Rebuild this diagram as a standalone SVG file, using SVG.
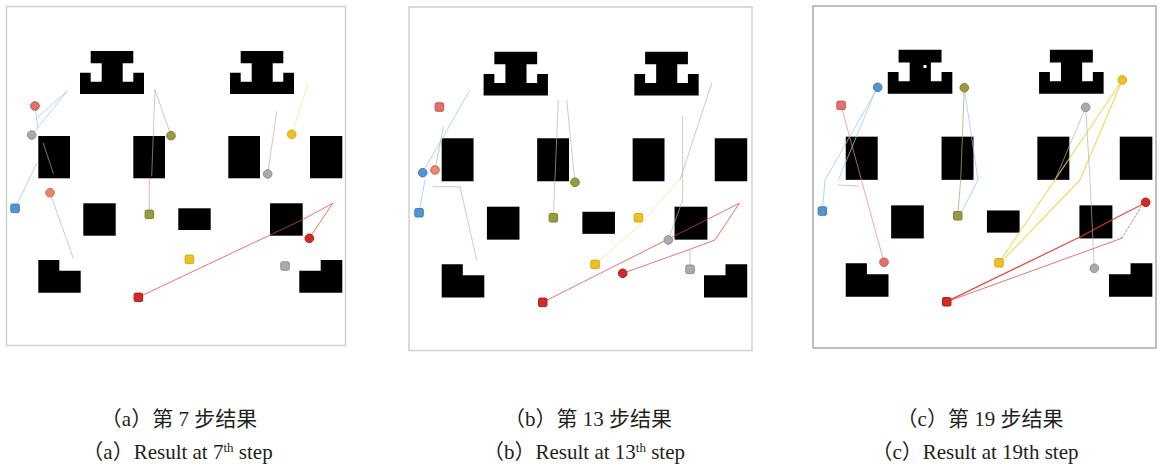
<svg xmlns="http://www.w3.org/2000/svg" width="1167" height="466" viewBox="0 0 1167 466">
<style>
.frame{fill:#fff;stroke:#d0d0d0;stroke-width:1.5}
.frame-c{fill:#fff;stroke:#a9a9a9;stroke-width:1.5}
.obs{fill:#000}
.ln{fill:none;stroke-width:0.9;stroke-linecap:round;stroke-linejoin:round}
.lred{stroke:#e0483f;opacity:.85}
.lredb{stroke:#e03a34;stroke-width:1.3;opacity:.9}
.ldash{stroke:#e0483f;stroke-dasharray:2 2;opacity:.8}
.lpink{stroke:#e58a84;opacity:.8}
.lgray{stroke:#b0b0b0;opacity:.75}
.lblue{stroke:#9cc8ec;opacity:.85}
.lyel{stroke:#f0d44a;stroke-width:1.2;opacity:.85}
.lyelf{stroke:#f3e29a;opacity:.8}
.lolive{stroke:#a7ad6a;opacity:.85}
.red{fill:#d12b27;stroke:#b01c18}
.pink{fill:#e2706b;stroke:#cc5852}
.orange{fill:#e8876a;stroke:#d06a4c}
.gray{fill:#ababab;stroke:#919191}
.olive{fill:#979c3e;stroke:#7c8130}
.yellow{fill:#efc021;stroke:#d8a814}
.blue{fill:#5294d0;stroke:#3f7fbb}
.cap{font-family:"Liberation Serif","Noto Sans CJK SC",serif;font-size:21px;fill:#231f20;text-anchor:middle}
</style>
<defs>
<g id="obstacles">
<path class="obs" d="M90.7,51H133.3V63.3H122.7V81.7H133.3V72.7H144V94H80V72.7H90.7V81.7H101.7V63.3H90.7Z"/>
<path class="obs" d="M240.7,51H283.3V63.3H272.7V81.7H283.3V72.7H294V94H230V72.7H240.7V81.7H251.7V63.3H240.7Z"/>
<rect class="obs" x="38.3" y="136" width="31.7" height="42.3"/>
<rect class="obs" x="133.3" y="136" width="31.7" height="42.3"/>
<rect class="obs" x="228.3" y="136" width="31.7" height="42.3"/>
<rect class="obs" x="310" y="136" width="32.3" height="42.3"/>
<rect class="obs" x="83.3" y="203.3" width="32.4" height="32.4"/>
<rect class="obs" x="178.3" y="208.3" width="32.4" height="21.7"/>
<rect class="obs" x="270" y="203.3" width="32.7" height="32.4"/>
<path class="obs" d="M38.3,260H59.3V270.7H80.7V292.7H38.3Z"/>
<path class="obs" d="M320.7,260H342.3V292.7H299.3V270.7H320.7Z"/>
</g>
</defs>

<g id="panel-a">
<rect class="frame" x="6.5" y="6.5" width="339" height="339"/>
<use href="#obstacles"/>
</g>
<g id="panel-b">
<rect class="frame" x="409" y="7" width="343" height="343.5"/>
<use href="#obstacles" transform="matrix(1.005,0,0,1.017,403.2,-0.06)"/>
</g>
<g id="panel-c">
<rect class="frame-c" x="813" y="6" width="343" height="342"/>
<use href="#obstacles" transform="matrix(1.0086,0,0,1.021,807.1,-2.2)"/>
<rect x="923.5" y="65" width="3" height="3" fill="#fff"/>
</g>

<g id="connectors">
<!-- panel a -->
<path class="ln lblue" d="M31.7,135L66.7,91.7"/>
<path class="ln lblue" d="M36.7,118L66.7,91.7"/>
<path class="ln lblue" d="M35,106L38,128"/>
<path class="ln lgray" d="M43.3,143.3L53.3,173.3"/>
<path class="ln lblue" d="M15,208.3L36.7,163.3"/>
<path class="ln lgray" d="M50,192.7L73.3,258.3"/>
<path class="ln lgray" d="M155,90L151.7,176"/>
<path class="ln lgray" d="M155,90L171,135.7"/>
<path class="ln lpink" d="M149.3,178L149.3,210"/>
<path class="ln lred" d="M138.3,297.3L303.3,219.3L332.7,203.3L309.3,238.3"/>
<path class="ln lgray" d="M267.7,174L276.7,111.7"/>
<path class="ln lyelf" d="M291.7,134.3L308.3,83.3"/>
<!-- panel b -->
<path class="ln lblue" d="M422.7,172.7L470,90"/>
<path class="ln lgray" d="M435,170L443.3,126.7"/>
<path class="ln lgray" d="M433,186.7L460,186.7L476.7,260"/>
<path class="ln lblue" d="M419,212.7L425,180"/>
<path class="ln lgray" d="M558.3,100L553.3,217.7"/>
<path class="ln lgray" d="M566.7,100L575,182.3"/>
<path class="ln lyelf" d="M595,264.3L640,225L683,175"/>
<path class="ln lgray" d="M711.7,83.3L680,180"/>
<path class="ln lgray" d="M682.7,116.7L682.7,200L668.3,240"/>
<path class="ln lred" d="M542.7,302.3L739.3,203.3L715,240L690,249.3L622.7,273.3"/>
<path class="ln lgray" d="M690,249.3L690,269.3"/>
<!-- panel c -->
<path class="ln lpink" d="M841,105.3L884,262.3"/>
<path class="ln lblue" d="M877.7,87.3L825,180L822.3,211"/>
<path class="ln lblue" d="M875,92L838.3,180"/>
<path class="ln lgray" d="M838.3,185L858,186"/>
<path class="ln lolive" d="M964.3,87.7L960.7,180L957.7,215.7"/>
<path class="ln lblue" d="M964.3,87.7L978,180L961,213"/>
<path class="ln lyel" d="M1122.3,80L999,262.7"/>
<path class="ln lyel" d="M1122.3,80L1080,180L1005,258"/>
<path class="ln lgray" d="M1085.7,107.3L1090,180L1094.3,268.3"/>
<path class="ln lgray" d="M1085.7,107.3L1055,180"/>
<path class="ln lredb" d="M946.7,301.7L1082,236L1111.7,220L1143,204"/>
<path class="ln lred" d="M946.7,301.7L1121.7,238.3"/>
<path class="ln ldash" d="M1121.7,238.3L1141,207"/>
</g>

<g id="agents-a">
<circle class="pink" cx="35" cy="106" r="4.3"/>
<circle class="gray" cx="31.7" cy="135" r="4.3"/>
<circle class="olive" cx="171" cy="135.7" r="4.3"/>
<circle class="yellow" cx="291.7" cy="134.3" r="4.3"/>
<circle class="gray" cx="267.7" cy="174" r="4.3"/>
<circle class="orange" cx="50" cy="192.7" r="4.3"/>
<rect class="blue" x="10.8" y="204.1" width="8.5" height="8.5" rx="1.5"/>
<rect class="olive" x="145.1" y="210.1" width="8.5" height="8.5" rx="1.5"/>
<rect class="yellow" x="185.1" y="255.1" width="8.5" height="8.5" rx="1.5"/>
<rect class="red" x="134.1" y="293.1" width="8.5" height="8.5" rx="1.5"/>
<circle class="red" cx="309.3" cy="238.3" r="4.3"/>
<rect class="gray" x="280.8" y="261.8" width="8.5" height="8.5" rx="1.5"/>
</g>
<g id="agents-b">
<rect class="pink" x="435.1" y="102.8" width="8.5" height="8.5" rx="1.5"/>
<circle class="blue" cx="422.7" cy="172.7" r="4.3"/>
<circle class="orange" cx="435" cy="170" r="4.3"/>
<circle class="olive" cx="575" cy="182.3" r="4.3"/>
<rect class="blue" x="414.8" y="208.5" width="8.5" height="8.5" rx="1.5"/>
<rect class="olive" x="549.1" y="213.5" width="8.5" height="8.5" rx="1.5"/>
<rect class="yellow" x="634.1" y="213.5" width="8.5" height="8.5" rx="1.5"/>
<circle class="gray" cx="668.3" cy="240" r="4.3"/>
<rect class="yellow" x="590.8" y="260.1" width="8.5" height="8.5" rx="1.5"/>
<circle class="red" cx="622.7" cy="273.3" r="4.3"/>
<rect class="gray" x="685.8" y="265.1" width="8.5" height="8.5" rx="1.5"/>
<rect class="red" x="538.5" y="298.1" width="8.5" height="8.5" rx="1.5"/>
</g>
<g id="agents-c">
<rect class="pink" x="836.8" y="101.1" width="8.5" height="8.5" rx="1.5"/>
<circle class="blue" cx="877.7" cy="87.3" r="4.3"/>
<circle class="olive" cx="964.3" cy="87.7" r="4.3"/>
<circle class="gray" cx="1085.7" cy="107.3" r="4.3"/>
<circle class="yellow" cx="1122.3" cy="80" r="4.3"/>
<rect class="blue" x="818.1" y="206.8" width="8.5" height="8.5" rx="1.5"/>
<rect class="olive" x="953.5" y="211.5" width="8.5" height="8.5" rx="1.5"/>
<circle class="red" cx="1145.7" cy="202.3" r="4.3"/>
<circle class="pink" cx="884" cy="262.3" r="4.3"/>
<rect class="yellow" x="994.8" y="258.5" width="8.5" height="8.5" rx="1.5"/>
<circle class="gray" cx="1094.3" cy="268.3" r="4.3"/>
<rect class="red" x="942.5" y="297.5" width="8.5" height="8.5" rx="1.5"/>
</g>

<g id="captions">
<text class="cap" x="179" y="426">（a）第 7 步结果</text>
<text class="cap" x="177.5" y="459">（a）Result at 7<tspan dy="-7" font-size="13">th</tspan><tspan dy="7"> step</tspan></text>
<text class="cap" x="588" y="426">（b）第 13 步结果</text>
<text class="cap" x="584" y="459">（b）Result at 13<tspan dy="-7" font-size="13">th</tspan><tspan dy="7"> step</tspan></text>
<text class="cap" x="980" y="426">（c）第 19 步结果</text>
<text class="cap" x="975" y="459">（c）Result at 19th step</text>
</g>
</svg>
